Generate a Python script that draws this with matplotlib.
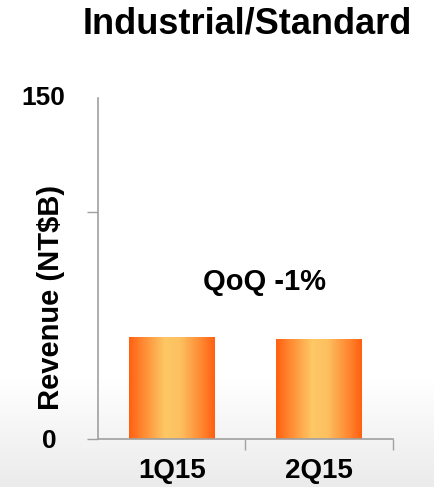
import numpy as np
import matplotlib.pyplot as plt
from matplotlib.colors import LinearSegmentedColormap

# data
quarters = ['1Q15', '2Q15']
revenue = [44.7, 44.1]
ymax = 150
note = 'QoQ -1%'

plt.rcParams['font.family'] = ['Liberation Sans', 'DejaVu Sans']
plt.rcParams['font.weight'] = 'bold'

fig = plt.figure(figsize=(4.35, 4.87), dpi=100)

# faint grey floor at the bottom of the slide
bg = fig.add_axes([0, 0, 1, 1], zorder=-10)
grad = np.clip((np.linspace(0, 1, 200) - 0.78) / 0.22, 0, 1)[:, None]
bg_cmap = LinearSegmentedColormap.from_list('bg', ['#ffffff', '#ebebeb'])
bg.imshow(grad, aspect='auto', cmap=bg_cmap, extent=[0, 1, 0, 1], origin='upper')
bg.axis('off')

ax = fig.add_axes([0.2253, 0.0986, 0.6775, 0.7002])
ax.patch.set_alpha(0)

x = np.arange(len(quarters))
bars = ax.bar(x, revenue, width=0.58, color='none', edgecolor='none')

# orange cylinder-like shading across each bar
bar_cmap = LinearSegmentedColormap.from_list(
    'bar', [(0, '#ff6010'), (0.15, '#ff8630'), (0.42, '#fdc865'),
            (0.6, '#fcc060'), (0.85, '#ff8630'), (1, '#ff6010')])
shade = np.linspace(0, 1, 256)[None, :]
for b in bars:
    x0, w, h = b.get_x(), b.get_width(), b.get_height()
    im = ax.imshow(shade, aspect='auto', cmap=bar_cmap,
                   extent=[x0, x0 + w, 0, h], zorder=2)
    im.set_clip_path(b)

ax.set_xlim(-0.5, len(quarters) - 0.5)
ax.set_ylim(0, ymax)

ax.set_xticks(x)
ax.set_xticklabels(quarters, fontsize=20, fontweight='bold')
ax.set_xticks(np.arange(len(quarters)) + 0.5, minor=True)
ax.tick_params(axis='x', which='major', length=0, pad=14)
ax.tick_params(axis='x', which='minor', length=8, color='#a0a0a0', width=1)

ax.set_yticks([0, 100])
ax.set_yticklabels(['0', ''], fontsize=19, fontweight='bold')
ax.tick_params(axis='y', length=8, color='#a0a0a0', width=1, pad=22)
ax.text(-0.72, ymax, str(ymax), ha='right', va='center',
        fontsize=19, fontweight='bold')

for side in ['top', 'right']:
    ax.spines[side].set_visible(False)
for side in ['left', 'bottom']:
    ax.spines[side].set_color('#a0a0a0')
    ax.spines[side].set_linewidth(1.2)

ax.text(0.627, 69, note, ha='center', va='center', fontsize=21, fontweight='bold')

fig.text(0.569, 0.951, 'Industrial/Standard', ha='center', va='center',
         fontsize=26, fontweight='bold')
fig.text(0.117, 0.39, 'Revenue (NT$B)', ha='center', va='center',
         rotation=90, fontsize=21, fontweight='bold')

fig.savefig('out.png', dpi=100)
